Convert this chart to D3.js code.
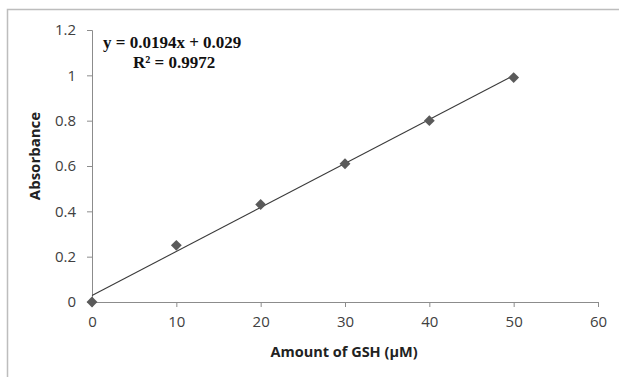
<!DOCTYPE html>
<html>
<head>
<meta charset="utf-8">
<script src="https://cdn.jsdelivr.net/npm/d3@7"></script>
<style>
  html, body { margin: 0; padding: 0; background: #fff; }
  svg { display: block; }
</style>
</head>
<body>
<svg id="chart" width="619" height="377"></svg>
<script>
// ---- data ----
const gshAmount = [0, 10, 20, 30, 40, 50];
const absorbance = [0, 0.25, 0.43, 0.61, 0.80, 0.99];
const xTicks = [0, 10, 20, 30, 40, 50, 60];
const yTicks = [0, 0.2, 0.4, 0.6, 0.8, 1, 1.2];
const trendSlope = 0.0194;
const trendIntercept = 0.029;
const trendRange = [0, 50];
const equationText = "y = 0.0194x + 0.029";
const r2Text = "R² = 0.9972";
const xTitle = "Amount of GSH (µM)";
const yTitle = "Absorbance";

(function () {
// ---- layout ----
const svg = d3.select("#chart");
const mLeft = 92, mRight = 598, mTop = 30, mBottom = 302;

// outer frame
svg.append("rect")
  .attr("x", 7.5).attr("y", 9.5).attr("width", 700).attr("height", 500)
  .attr("fill", "none").attr("stroke", "#bdbdbd").attr("stroke-width", 1.5);

const x = d3.scaleLinear().domain([0, 60]).range([mLeft, mRight]);
const y = d3.scaleLinear().domain([0, 1.2]).range([mBottom, mTop]);

const fontAxis = "'Open Sans', 'Liberation Sans', sans-serif";

// x axis
const xAxis = svg.append("g")
  .attr("transform", `translate(0,${mBottom})`)
  .call(d3.axisBottom(x).tickValues(xTicks).tickSize(5).tickPadding(9).tickFormat(d3.format("d")));
// y axis
const yAxis = svg.append("g")
  .attr("transform", `translate(${mLeft},0)`)
  .call(d3.axisLeft(y).tickValues(yTicks).tickSize(5).tickPadding(11).tickFormat(d => d3.format("~g")(d)));

[xAxis, yAxis].forEach(g => {
  g.select(".domain").attr("stroke", "#8c8c8c");
  g.selectAll(".tick line").attr("stroke", "#8c8c8c");
  g.selectAll(".tick text")
    .attr("fill", "#404040")
    .style("font-family", fontAxis)
    .style("font-size", "15px");
});

// trendline
svg.append("line")
  .attr("x1", x(trendRange[0])).attr("y1", y(trendSlope * trendRange[0] + trendIntercept))
  .attr("x2", x(trendRange[1])).attr("y2", y(trendSlope * trendRange[1] + trendIntercept))
  .attr("stroke", "#3a3a3a").attr("stroke-width", 1.1);

// diamonds
const sym = d3.symbol().type(d3.symbolDiamond2).size(75);
svg.append("g").selectAll("path")
  .data(gshAmount.map((g, i) => [g, absorbance[i]]))
  .join("path")
  .attr("d", sym)
  .attr("transform", d => `translate(${x(d[0])},${y(d[1])})`)
  .attr("fill", "#5a5a5a");

// equation
const eq = svg.append("g")
  .style("font-family", "'Liberation Serif', 'Times New Roman', serif")
  .style("font-weight", "bold")
  .style("font-size", "17px")
  .attr("fill", "#111");
eq.append("text").attr("x", 103).attr("y", 48).text(equationText);
eq.append("text").attr("x", 133).attr("y", 68).text(r2Text);

// axis titles
svg.append("text")
  .attr("x", 344).attr("y", 357)
  .attr("text-anchor", "middle")
  .style("font-family", fontAxis).style("font-weight", "bold").style("font-size", "14.5px")
  .attr("fill", "#222")
  .text(xTitle);
svg.append("text")
  .attr("transform", `translate(40,156) rotate(-90)`)
  .attr("text-anchor", "middle")
  .style("font-family", fontAxis).style("font-weight", "bold").style("font-size", "15px")
  .attr("fill", "#222")
  .text(yTitle);
})();
</script>
</body>
</html>
